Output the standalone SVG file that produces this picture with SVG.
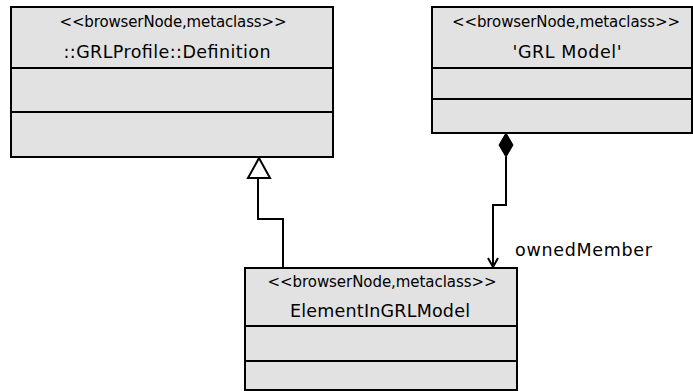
<svg xmlns="http://www.w3.org/2000/svg" width="693" height="391" viewBox="0 0 693 391">
<style>
.box{fill:#e2e2e2;stroke:#000;stroke-width:2}
.div{stroke:#000;stroke-width:2}
.st{font-family:"DejaVu Sans","Liberation Sans",sans-serif;font-size:15px;fill:#000;text-anchor:middle}
.nm{font-family:"DejaVu Sans","Liberation Sans",sans-serif;font-size:17.5px;fill:#000;text-anchor:middle}
.lbl{font-family:"DejaVu Sans","Liberation Sans",sans-serif;font-size:17.5px;fill:#000}
.ln{fill:none;stroke:#000;stroke-width:2}
</style>
<rect width="693" height="391" fill="#fff"/>
<g id="node-definition">
<rect class="box" x="11" y="7" width="322" height="150"/>
<line class="div" x1="11" y1="68" x2="333" y2="68"/>
<line class="div" x1="11" y1="112" x2="333" y2="112"/>
<text class="st" x="173" y="27" textLength="227">&lt;&lt;browserNode,metaclass&gt;&gt;</text>
<text class="nm" x="167" y="58" textLength="207">::GRLProfile::Definition</text>
</g>
<g id="node-grlmodel">
<rect class="box" x="432" y="7" width="260" height="126"/>
<line class="div" x1="432" y1="68" x2="692" y2="68"/>
<line class="div" x1="432" y1="99" x2="692" y2="99"/>
<text class="st" x="566" y="27" textLength="228">&lt;&lt;browserNode,metaclass&gt;&gt;</text>
<text class="nm" x="567" y="58" textLength="109">'GRL Model'</text>
</g>
<g id="node-element">
<rect class="box" x="245" y="268" width="272" height="122"/>
<line class="div" x1="245" y1="326" x2="517" y2="326"/>
<line class="div" x1="245" y1="361" x2="517" y2="361"/>
<text class="st" x="382" y="287" textLength="229">&lt;&lt;browserNode,metaclass&gt;&gt;</text>
<text class="nm" x="380" y="317" textLength="180">ElementInGRLModel</text>
</g>
<g id="connectors">
<polyline class="ln" points="283,268 283,219 258,219 258,178"/>
<polygon points="259,158 248,178 270,178" fill="#fff" stroke="#000" stroke-width="2"/>
<polygon points="506,133 513,145 506,157 499,145" fill="#000" stroke="#000" stroke-width="1"/>
<polyline class="ln" points="506,157 506,205 493,205 493,267"/>
<polyline class="ln" points="488,258 493,267 498,258"/>
<text class="lbl" x="515" y="256" textLength="137">ownedMember</text>
</g>
</svg>
